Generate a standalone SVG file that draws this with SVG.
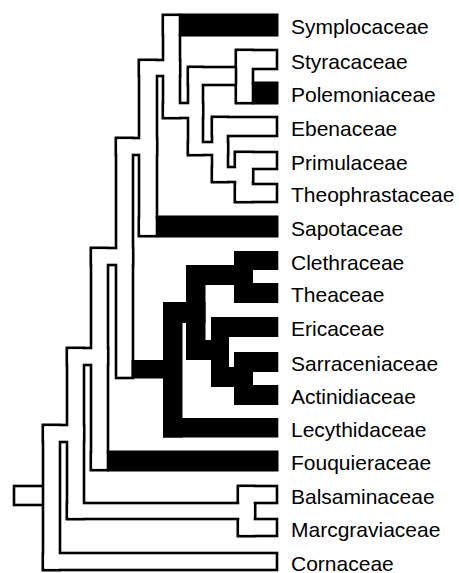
<svg xmlns="http://www.w3.org/2000/svg" xmlns:xlink="http://www.w3.org/1999/xlink" width="459" height="573" viewBox="0 0 459 573">
<style>
.o use{fill:#000;stroke:#000;stroke-width:5.2}
.w use{fill:#fff;stroke:none}
.b{fill:#000}
text{font-family:"Liberation Sans",Arial,Helvetica,sans-serif;font-size:21px;fill:#000}
</style>
<defs>
<rect id="r1" x="164.3" y="16.3" width="111.4" height="17.4"/>
<rect id="r2" x="164.3" y="16.3" width="14.4" height="100.4"/>
<rect id="r3" x="164.3" y="104.3" width="37.4" height="12.4"/>
<rect id="r4" x="189.3" y="68.3" width="12.4" height="85.4"/>
<rect id="r5" x="189.3" y="68.3" width="45.4" height="15.4"/>
<rect id="r6" x="237.3" y="51.3" width="14.4" height="50.4"/>
<rect id="r7" x="237.3" y="51.3" width="38.4" height="16.4"/>
<rect id="r8" x="237.3" y="84.3" width="38.4" height="17.4"/>
<rect id="r9" x="189.3" y="143.3" width="37.4" height="10.4"/>
<rect id="r10" x="213.3" y="118.3" width="13.4" height="62.4"/>
<rect id="r11" x="213.3" y="118.3" width="62.4" height="16.4"/>
<rect id="r12" x="213.3" y="168.3" width="38.4" height="12.4"/>
<rect id="r13" x="236.3" y="153.3" width="15.4" height="47.4"/>
<rect id="r14" x="236.3" y="153.3" width="39.4" height="14.4"/>
<rect id="r15" x="236.3" y="185.3" width="39.4" height="15.4"/>
<rect id="r16" x="140.3" y="61.3" width="38.4" height="13.4"/>
<rect id="r17" x="140.3" y="61.3" width="15.4" height="173.4"/>
<rect id="r18" x="140.3" y="218.3" width="135.4" height="16.4"/>
<rect id="r19" x="117.3" y="139.3" width="38.4" height="14.4"/>
<rect id="r20" x="117.3" y="139.3" width="14.4" height="237.4"/>
<rect id="r22" x="92.3" y="249.3" width="39.4" height="14.4"/>
<rect id="r23" x="92.3" y="249.3" width="14.4" height="219.4"/>
<rect id="r24" x="92.3" y="453.3" width="183.4" height="15.4"/>
<rect id="r25" x="68.3" y="349.3" width="38.4" height="14.4"/>
<rect id="r26" x="68.3" y="349.3" width="14.4" height="168.4"/>
<rect id="r27" x="68.3" y="504.3" width="185.4" height="13.4"/>
<rect id="r28" x="239.3" y="487.3" width="14.4" height="47.4"/>
<rect id="r29" x="239.3" y="487.3" width="36.4" height="14.4"/>
<rect id="r30" x="239.3" y="520.3" width="36.4" height="14.4"/>
<rect id="r31" x="44.3" y="426.3" width="38.4" height="14.4"/>
<rect id="r32" x="44.3" y="426.3" width="14.4" height="142.4"/>
<rect id="r33" x="44.3" y="554.3" width="231.4" height="14.4"/>
<rect id="r34" x="15.3" y="487.3" width="26.4" height="16.4"/>
<g id="bands">
<use xlink:href="#r1"/><use xlink:href="#r2"/><use xlink:href="#r3"/><use xlink:href="#r4"/>
<use xlink:href="#r5"/><use xlink:href="#r6"/><use xlink:href="#r7"/><use xlink:href="#r8"/>
<use xlink:href="#r9"/><use xlink:href="#r10"/><use xlink:href="#r11"/><use xlink:href="#r12"/>
<use xlink:href="#r13"/><use xlink:href="#r14"/><use xlink:href="#r15"/><use xlink:href="#r16"/>
<use xlink:href="#r17"/><use xlink:href="#r18"/><use xlink:href="#r19"/><use xlink:href="#r20"/>
<use xlink:href="#r22"/><use xlink:href="#r23"/><use xlink:href="#r24"/><use xlink:href="#r25"/>
<use xlink:href="#r26"/><use xlink:href="#r27"/><use xlink:href="#r28"/><use xlink:href="#r29"/>
<use xlink:href="#r30"/><use xlink:href="#r31"/><use xlink:href="#r32"/><use xlink:href="#r33"/>
<use xlink:href="#r34"/>
</g>
</defs>
<rect x="0" y="0" width="459" height="573" fill="#fff"/>
<g id="connectors">
<g class="o"><use xlink:href="#bands"/></g>
<g class="w"><use xlink:href="#bands"/></g>
<g id="black-branches" class="b">
<rect x="178.7" y="13.7" width="99.6" height="22.6"/>
<rect x="251.7" y="81.7" width="26.6" height="22.6"/>
<rect x="155.7" y="215.7" width="122.6" height="21.6"/>
<rect x="106.7" y="450.7" width="171.6" height="20.6"/>
<rect x="131.5" y="360" width="32.5" height="18.5"/>
<rect x="163" y="302" width="19.5" height="135.5"/>
<rect x="163" y="302" width="42.5" height="21"/>
<rect x="186" y="265" width="19.5" height="95"/>
<rect x="186" y="265" width="67" height="20"/>
<rect x="234" y="251" width="19" height="52"/>
<rect x="234" y="251" width="44.3" height="19"/>
<rect x="234" y="283" width="44.3" height="20"/>
<rect x="186" y="340" width="43" height="20"/>
<rect x="211" y="317" width="18" height="70"/>
<rect x="211" y="317" width="67.3" height="20"/>
<rect x="211" y="367" width="42" height="20"/>
<rect x="234" y="352" width="19" height="53"/>
<rect x="234" y="352" width="44.3" height="20"/>
<rect x="234" y="385" width="44.3" height="20"/>
<rect x="163" y="418" width="115.3" height="19.5"/>
</g>
</g>
<g id="taxon-symplocaceae"><text x="291" y="34">Symplocaceae</text></g>
<g id="taxon-styracaceae"><text x="291" y="68.5">Styracaceae</text></g>
<g id="taxon-polemoniaceae"><text x="291" y="102">Polemoniaceae</text></g>
<g id="taxon-ebenaceae"><text x="291" y="135.5">Ebenaceae</text></g>
<g id="taxon-primulaceae"><text x="291" y="169.5">Primulaceae</text></g>
<g id="taxon-theophrastaceae"><text x="291" y="202">Theophrastaceae</text></g>
<g id="taxon-sapotaceae"><text x="291" y="235.5">Sapotaceae</text></g>
<g id="taxon-clethraceae"><text x="291" y="269.5">Clethraceae</text></g>
<g id="taxon-theaceae"><text x="291" y="302">Theaceae</text></g>
<g id="taxon-ericaceae"><text x="291" y="336">Ericaceae</text></g>
<g id="taxon-sarraceniaceae"><text x="291" y="371">Sarraceniaceae</text></g>
<g id="taxon-actinidiaceae"><text x="291" y="404">Actinidiaceae</text></g>
<g id="taxon-lecythidaceae"><text x="291" y="436.5">Lecythidaceae</text></g>
<g id="taxon-fouquieraceae"><text x="291" y="470">Fouquieraceae</text></g>
<g id="taxon-balsaminaceae"><text x="291" y="503.5">Balsaminaceae</text></g>
<g id="taxon-marcgraviaceae"><text x="291" y="536.5">Marcgraviaceae</text></g>
<g id="taxon-cornaceae"><text x="291" y="570.5">Cornaceae</text></g>
</svg>
